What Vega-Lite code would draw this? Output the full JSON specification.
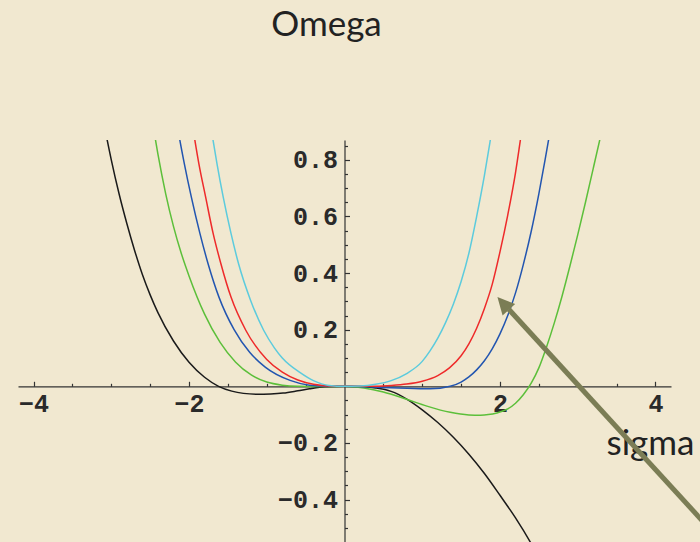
{
  "$schema": "https://vega.github.io/schema/vega-lite/v6.json",
  "width": 653,
  "height": 402,
  "autosize": {"type": "none"},
  "padding": {"left": 18, "top": 140, "right": 29, "bottom": 0},
  "background": "#f1e8d0",
  "config": {
    "view": {"stroke": null},
    "axis": {"domainColor": "#333333", "tickColor": "#333333", "labelFont": "Liberation Mono", "labelFontSize": 25, "labelFontWeight": "bold", "labelColor": "#2a2a2a", "grid": false, "domainWidth": 1.2, "tickWidth": 1.2}
  },
  "title": {"text": "Omega", "font": "Lato", "fontSize": 35, "fontWeight": "normal", "color": "#222222", "anchor": "middle", "frame": "group", "offset": 69, "baseline": "alphabetic", "dx": -18},
  "layer": [
    {
      "data": {"values": [
        {"curve": 1, "sigma": -3.1, "omega": 0.935},
        {"curve": 1, "sigma": -3.0, "omega": 0.8},
        {"curve": 1, "sigma": -2.9, "omega": 0.68},
        {"curve": 1, "sigma": -2.8, "omega": 0.575},
        {"curve": 1, "sigma": -2.7, "omega": 0.48},
        {"curve": 1, "sigma": -2.6, "omega": 0.395},
        {"curve": 1, "sigma": -2.5, "omega": 0.323},
        {"curve": 1, "sigma": -2.4, "omega": 0.26},
        {"curve": 1, "sigma": -2.2, "omega": 0.16},
        {"curve": 1, "sigma": -2.0, "omega": 0.085},
        {"curve": 1, "sigma": -1.8, "omega": 0.032},
        {"curve": 1, "sigma": -1.62, "omega": 0.0},
        {"curve": 1, "sigma": -1.45, "omega": -0.017},
        {"curve": 1, "sigma": -1.3, "omega": -0.025},
        {"curve": 1, "sigma": -1.13, "omega": -0.028},
        {"curve": 1, "sigma": -0.95, "omega": -0.027},
        {"curve": 1, "sigma": -0.79, "omega": -0.024},
        {"curve": 1, "sigma": -0.6, "omega": -0.016},
        {"curve": 1, "sigma": -0.45, "omega": -0.009},
        {"curve": 1, "sigma": -0.25, "omega": -0.002},
        {"curve": 1, "sigma": 0, "omega": 0},
        {"curve": 1, "sigma": 0.2, "omega": -0.001},
        {"curve": 1, "sigma": 0.4, "omega": -0.006},
        {"curve": 1, "sigma": 0.6, "omega": -0.018},
        {"curve": 1, "sigma": 0.8, "omega": -0.045},
        {"curve": 1, "sigma": 1.0, "omega": -0.083},
        {"curve": 1, "sigma": 1.2, "omega": -0.128},
        {"curve": 1, "sigma": 1.4, "omega": -0.18},
        {"curve": 1, "sigma": 1.6, "omega": -0.24},
        {"curve": 1, "sigma": 1.8, "omega": -0.308},
        {"curve": 1, "sigma": 2.0, "omega": -0.385},
        {"curve": 1, "sigma": 2.2, "omega": -0.465},
        {"curve": 1, "sigma": 2.4, "omega": -0.555},
        {"curve": 1, "sigma": 2.5, "omega": -0.605},

        {"curve": 2, "sigma": -2.45, "omega": 0.9},
        {"curve": 2, "sigma": -2.4, "omega": 0.82},
        {"curve": 2, "sigma": -2.3, "omega": 0.68},
        {"curve": 2, "sigma": -2.2, "omega": 0.565},
        {"curve": 2, "sigma": -2.1, "omega": 0.47},
        {"curve": 2, "sigma": -2.0, "omega": 0.39},
        {"curve": 2, "sigma": -1.8, "omega": 0.255},
        {"curve": 2, "sigma": -1.6, "omega": 0.155},
        {"curve": 2, "sigma": -1.4, "omega": 0.085},
        {"curve": 2, "sigma": -1.2, "omega": 0.04},
        {"curve": 2, "sigma": -1.0, "omega": 0.015},
        {"curve": 2, "sigma": -0.8, "omega": 0.004},
        {"curve": 2, "sigma": -0.6, "omega": 0.0},
        {"curve": 2, "sigma": -0.3, "omega": -0.001},
        {"curve": 2, "sigma": 0, "omega": 0},
        {"curve": 2, "sigma": 0.25, "omega": -0.006},
        {"curve": 2, "sigma": 0.5, "omega": -0.02},
        {"curve": 2, "sigma": 0.8, "omega": -0.046},
        {"curve": 2, "sigma": 1.06, "omega": -0.07},
        {"curve": 2, "sigma": 1.36, "omega": -0.092},
        {"curve": 2, "sigma": 1.6, "omega": -0.101},
        {"curve": 2, "sigma": 1.75, "omega": -0.102},
        {"curve": 2, "sigma": 1.85, "omega": -0.1},
        {"curve": 2, "sigma": 1.96, "omega": -0.094},
        {"curve": 2, "sigma": 2.1, "omega": -0.08},
        {"curve": 2, "sigma": 2.2, "omega": -0.06},
        {"curve": 2, "sigma": 2.3, "omega": -0.03},
        {"curve": 2, "sigma": 2.4, "omega": 0.01},
        {"curve": 2, "sigma": 2.5, "omega": 0.065},
        {"curve": 2, "sigma": 2.6, "omega": 0.14},
        {"curve": 2, "sigma": 2.7, "omega": 0.225},
        {"curve": 2, "sigma": 2.8, "omega": 0.32},
        {"curve": 2, "sigma": 2.9, "omega": 0.425},
        {"curve": 2, "sigma": 3.0, "omega": 0.535},
        {"curve": 2, "sigma": 3.1, "omega": 0.65},
        {"curve": 2, "sigma": 3.2, "omega": 0.77},
        {"curve": 2, "sigma": 3.3, "omega": 0.89},
        {"curve": 2, "sigma": 3.35, "omega": 0.95},

        {"curve": 3, "sigma": -2.15, "omega": 0.92},
        {"curve": 3, "sigma": -2.117, "omega": 0.868},
        {"curve": 3, "sigma": -2.06, "omega": 0.786},
        {"curve": 3, "sigma": -1.97, "omega": 0.668},
        {"curve": 3, "sigma": -1.86, "omega": 0.54},
        {"curve": 3, "sigma": -1.755, "omega": 0.433},
        {"curve": 3, "sigma": -1.615, "omega": 0.315},
        {"curve": 3, "sigma": -1.42, "omega": 0.2},
        {"curve": 3, "sigma": -1.22, "omega": 0.12},
        {"curve": 3, "sigma": -1.02, "omega": 0.068},
        {"curve": 3, "sigma": -0.7, "omega": 0.021},
        {"curve": 3, "sigma": -0.45, "omega": 0.004},
        {"curve": 3, "sigma": -0.2, "omega": 0.0},
        {"curve": 3, "sigma": 0, "omega": 0},
        {"curve": 3, "sigma": 0.3, "omega": -0.002},
        {"curve": 3, "sigma": 0.7, "omega": -0.006},
        {"curve": 3, "sigma": 1.1, "omega": -0.009},
        {"curve": 3, "sigma": 1.36, "omega": 0.0},
        {"curve": 3, "sigma": 1.5, "omega": 0.015},
        {"curve": 3, "sigma": 1.6, "omega": 0.033},
        {"curve": 3, "sigma": 1.7, "omega": 0.058},
        {"curve": 3, "sigma": 1.8, "omega": 0.09},
        {"curve": 3, "sigma": 1.9, "omega": 0.132},
        {"curve": 3, "sigma": 2.0, "omega": 0.185},
        {"curve": 3, "sigma": 2.1, "omega": 0.25},
        {"curve": 3, "sigma": 2.2, "omega": 0.33},
        {"curve": 3, "sigma": 2.3, "omega": 0.43},
        {"curve": 3, "sigma": 2.4, "omega": 0.545},
        {"curve": 3, "sigma": 2.5, "omega": 0.68},
        {"curve": 3, "sigma": 2.58, "omega": 0.8},
        {"curve": 3, "sigma": 2.63, "omega": 0.878},
        {"curve": 3, "sigma": 2.68, "omega": 0.96},

        {"curve": 4, "sigma": -1.96, "omega": 0.93},
        {"curve": 4, "sigma": -1.924, "omega": 0.868},
        {"curve": 4, "sigma": -1.873, "omega": 0.786},
        {"curve": 4, "sigma": -1.786, "omega": 0.668},
        {"curve": 4, "sigma": -1.69, "omega": 0.54},
        {"curve": 4, "sigma": -1.59, "omega": 0.433},
        {"curve": 4, "sigma": -1.46, "omega": 0.315},
        {"curve": 4, "sigma": -1.27, "omega": 0.198},
        {"curve": 4, "sigma": -1.0, "omega": 0.095},
        {"curve": 4, "sigma": -0.8, "omega": 0.05},
        {"curve": 4, "sigma": -0.6, "omega": 0.022},
        {"curve": 4, "sigma": -0.4, "omega": 0.007},
        {"curve": 4, "sigma": -0.2, "omega": 0.001},
        {"curve": 4, "sigma": 0, "omega": 0},
        {"curve": 4, "sigma": 0.3, "omega": 0.0},
        {"curve": 4, "sigma": 0.6, "omega": 0.003},
        {"curve": 4, "sigma": 0.8, "omega": 0.008},
        {"curve": 4, "sigma": 1.0, "omega": 0.018},
        {"curve": 4, "sigma": 1.2, "omega": 0.038},
        {"curve": 4, "sigma": 1.35, "omega": 0.065},
        {"curve": 4, "sigma": 1.5, "omega": 0.108},
        {"curve": 4, "sigma": 1.6, "omega": 0.15},
        {"curve": 4, "sigma": 1.7, "omega": 0.205},
        {"curve": 4, "sigma": 1.8, "omega": 0.275},
        {"curve": 4, "sigma": 1.9, "omega": 0.36},
        {"curve": 4, "sigma": 2.0, "omega": 0.475},
        {"curve": 4, "sigma": 2.1, "omega": 0.605},
        {"curve": 4, "sigma": 2.2, "omega": 0.755},
        {"curve": 4, "sigma": 2.26, "omega": 0.865},
        {"curve": 4, "sigma": 2.3, "omega": 0.94},

        {"curve": 5, "sigma": -1.72, "omega": 0.92},
        {"curve": 5, "sigma": -1.69, "omega": 0.868},
        {"curve": 5, "sigma": -1.64, "omega": 0.786},
        {"curve": 5, "sigma": -1.56, "omega": 0.668},
        {"curve": 5, "sigma": -1.46, "omega": 0.54},
        {"curve": 5, "sigma": -1.36, "omega": 0.43},
        {"curve": 5, "sigma": -1.21, "omega": 0.305},
        {"curve": 5, "sigma": -1.04, "omega": 0.198},
        {"curve": 5, "sigma": -0.9, "omega": 0.135},
        {"curve": 5, "sigma": -0.8, "omega": 0.1},
        {"curve": 5, "sigma": -0.57, "omega": 0.048},
        {"curve": 5, "sigma": -0.4, "omega": 0.02},
        {"curve": 5, "sigma": -0.2, "omega": 0.003},
        {"curve": 5, "sigma": 0, "omega": 0},
        {"curve": 5, "sigma": 0.2, "omega": 0.001},
        {"curve": 5, "sigma": 0.4, "omega": 0.007},
        {"curve": 5, "sigma": 0.6, "omega": 0.02},
        {"curve": 5, "sigma": 0.8, "omega": 0.045},
        {"curve": 5, "sigma": 1.0, "omega": 0.088},
        {"curve": 5, "sigma": 1.1, "omega": 0.125},
        {"curve": 5, "sigma": 1.2, "omega": 0.17},
        {"curve": 5, "sigma": 1.3, "omega": 0.225},
        {"curve": 5, "sigma": 1.4, "omega": 0.29},
        {"curve": 5, "sigma": 1.5, "omega": 0.37},
        {"curve": 5, "sigma": 1.6, "omega": 0.47},
        {"curve": 5, "sigma": 1.7, "omega": 0.6},
        {"curve": 5, "sigma": 1.8, "omega": 0.745},
        {"curve": 5, "sigma": 1.87, "omega": 0.86},
        {"curve": 5, "sigma": 1.92, "omega": 0.95}
      ]},
      "mark": {"type": "line", "clip": true, "strokeWidth": 1.5, "interpolate": "monotone"},
      "encoding": {
        "x": {"field": "sigma", "type": "quantitative",
              "scale": {"domain": [-4.2, 4.2], "nice": false, "zero": false},
              "axis": {"orient": "bottom", "offset": -155.7, "values": [-4, -2, 2, 4], "tickSize": -5, "labelPadding": 10.6, "format": "d", "title": null}},
        "y": {"field": "omega", "type": "quantitative",
              "scale": {"domain": [-0.55, 0.87], "nice": false, "zero": false},
              "axis": {"orient": "left", "offset": -326.5, "values": [-0.4, -0.2, 0.2, 0.4, 0.6, 0.8], "tickSize": -5, "labelPadding": 12, "format": ".1f", "title": null}},
        "color": {"field": "curve", "type": "nominal",
                  "scale": {"domain": [1, 2, 3, 4, 5], "range": ["#1a1a1a", "#5cbf3a", "#2255b0", "#ee2a2a", "#5ccbdd"]},
                  "legend": null}
      }
    },
    {
      "data": {"values": [{}]},
      "mark": {"type": "text", "text": "sigma", "font": "Lato", "fontSize": 35, "align": "left", "baseline": "alphabetic", "color": "#222222"},
      "encoding": {
        "x": {"datum": 3.37, "type": "quantitative", "axis": null},
        "y": {"datum": -0.2435, "type": "quantitative", "axis": null}
      }
    },
    {
      "data": {"values": [{}]},
      "mark": {"type": "rule", "strokeWidth": 5, "color": "#7b7d55"},
      "encoding": {
        "x": {"datum": 2.113, "type": "quantitative", "axis": null},
        "y": {"datum": 0.272, "type": "quantitative", "axis": null},
        "x2": {"datum": 5.0},
        "y2": {"datum": -0.594}
      }
    },
    {
      "data": {"values": [{}]},
      "mark": {"type": "point", "shape": "M0,0L-0.5,1L0.5,1Z", "filled": true, "size": 1156, "angle": 317.6, "color": "#7b7d55", "opacity": 1},
      "encoding": {
        "x": {"datum": 1.967, "type": "quantitative",
              "axis": {"orient": "bottom", "offset": -155.7, "values": [-3.5, -3, -2.5, -1.5, -1, -0.5, 0.5, 1, 1.5, 2.5, 3, 3.5], "tickSize": -3, "labels": false, "domain": false, "title": null}},
        "y": {"datum": 0.315, "type": "quantitative",
              "axis": {"orient": "left", "offset": -326.5, "values": [-0.5, -0.45, -0.35, -0.3, -0.25, -0.15, -0.1, -0.05, 0.05, 0.1, 0.15, 0.25, 0.3, 0.35, 0.45, 0.5, 0.55, 0.65, 0.7, 0.75, 0.85], "tickSize": -3, "labels": false, "domain": false, "title": null}}
      }
    }
  ],
  "resolve": {"axis": {"x": "independent", "y": "independent"}}
}
